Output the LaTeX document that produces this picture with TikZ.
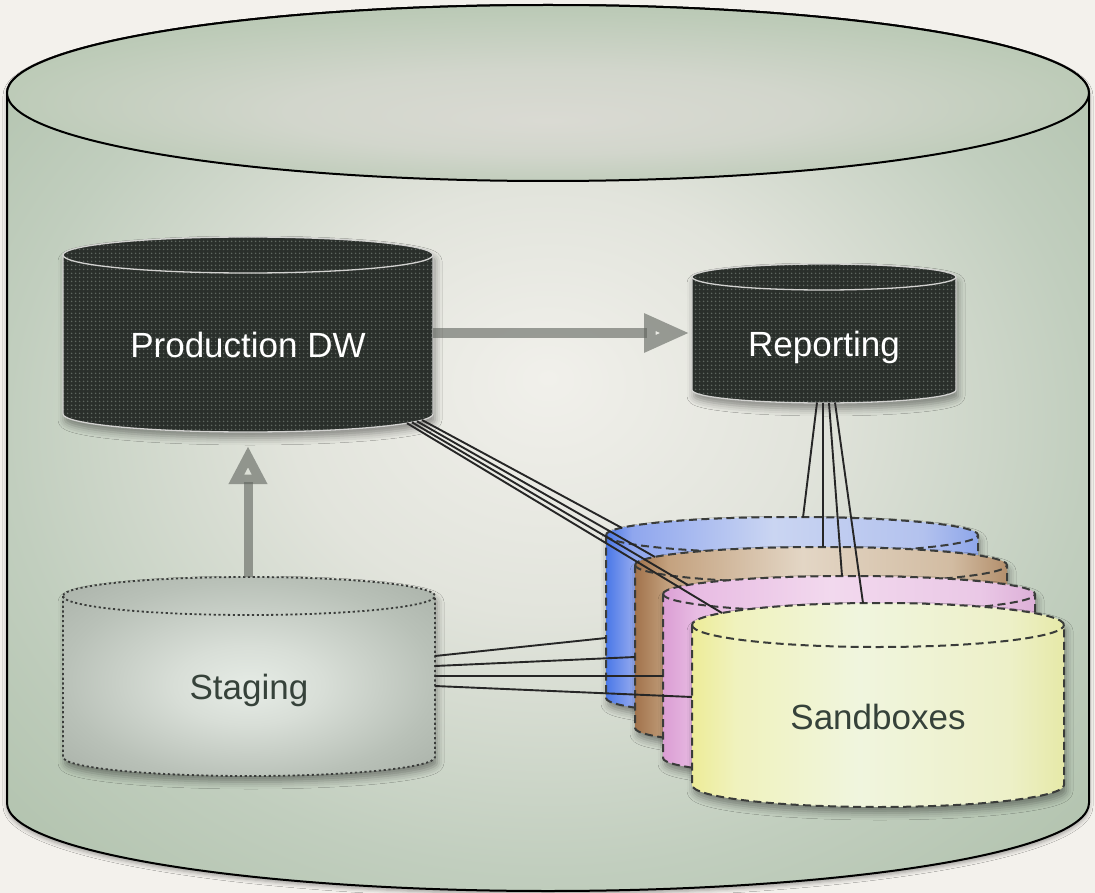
\documentclass[tikz,border=0pt]{standalone}
\usepackage{fontspec}
\setmainfont{Liberation Sans}
\usetikzlibrary{arrows.meta,patterns.meta,shadows.blur}

\definecolor{bg}{HTML}{F3F1EC}
\definecolor{bbA}{HTML}{F1F0EB}
\definecolor{bbB}{HTML}{E2E4DC}
\definecolor{bbC}{HTML}{C1CEBE}
\definecolor{bbD}{HTML}{AEC0AA}
\definecolor{btA}{HTML}{DADAD3}
\definecolor{btB}{HTML}{D2D6CC}
\definecolor{btC}{HTML}{BDCBB8}
\definecolor{btD}{HTML}{AEC0AA}
\definecolor{sgA}{HTML}{E6ECE6}
\definecolor{sgB}{HTML}{D8DED7}
\definecolor{sgC}{HTML}{B9C1B8}
\definecolor{sgD}{HTML}{AAB2A9}
\definecolor{dk}{HTML}{2A2F2B}
\definecolor{dkdot}{HTML}{5F6760}
\definecolor{dkline}{HTML}{D2D2D0}
\definecolor{arrowc}{HTML}{5F635D}
\definecolor{txtdark}{HTML}{36423A}
\definecolor{wirec}{HTML}{262626}
\definecolor{dashc}{HTML}{3A3C3A}
\definecolor{bl0}{HTML}{4A78E8}
\definecolor{bl1}{HTML}{8FA6EE}
\definecolor{bl2}{HTML}{CAD5F2}
\definecolor{bl3}{HTML}{B3C2EE}
\definecolor{bl4}{HTML}{8EA6EA}
\definecolor{br0}{HTML}{A2734C}
\definecolor{br1}{HTML}{C4A27F}
\definecolor{br2}{HTML}{E3D6C5}
\definecolor{br3}{HTML}{D2BCA2}
\definecolor{br4}{HTML}{B38F6C}
\definecolor{pk0}{HTML}{DB9ED4}
\definecolor{pk1}{HTML}{E8BCE3}
\definecolor{pk2}{HTML}{F2D9EE}
\definecolor{pk3}{HTML}{EAC8E6}
\definecolor{pk4}{HTML}{DDB0D8}
\definecolor{ye0}{HTML}{EDEC98}
\definecolor{ye1}{HTML}{F0F2BE}
\definecolor{ye2}{HTML}{F0F5DE}
\definecolor{ye3}{HTML}{EDF0C8}
\definecolor{ye4}{HTML}{E6E9A8}

% TikZ maps the 25bp..75bp band of a shading onto the path's bounding box
\pgfdeclareradialshading{bigbody}{\pgfpoint{0bp}{4bp}}{color(0bp)=(bbA); color(12bp)=(bbB); color(25bp)=(bbC); color(36bp)=(bbD)}
\pgfdeclareradialshading{bigtop}{\pgfpoint{0bp}{-8bp}}{color(0bp)=(btA); color(12bp)=(btB); color(25bp)=(btC); color(36bp)=(btD)}
\pgfdeclareradialshading{stgshade}{\pgfpoint{0bp}{-3bp}}{color(0bp)=(sgA); color(10bp)=(sgB); color(25bp)=(sgC); color(35bp)=(sgD)}
\pgfdeclarehorizontalshading{blueS}{100bp}{color(0bp)=(bl0); color(25bp)=(bl0); color(28.5bp)=(bl1); color(47.5bp)=(bl2); color(67.5bp)=(bl3); color(75bp)=(bl4); color(100bp)=(bl4)}
\pgfdeclarehorizontalshading{brownS}{100bp}{color(0bp)=(br0); color(25bp)=(br0); color(29.5bp)=(br1); color(47.5bp)=(br2); color(67.5bp)=(br3); color(75bp)=(br4); color(100bp)=(br4)}
\pgfdeclarehorizontalshading{pinkS}{100bp}{color(0bp)=(pk0); color(25bp)=(pk0); color(29.5bp)=(pk1); color(47.5bp)=(pk2); color(67.5bp)=(pk3); color(75bp)=(pk4); color(100bp)=(pk4)}
\pgfdeclarehorizontalshading{yelS}{100bp}{color(0bp)=(ye0); color(25bp)=(ye0); color(31bp)=(ye1); color(47.5bp)=(ye2); color(67.5bp)=(ye3); color(75bp)=(ye4); color(100bp)=(ye4)}

% #1 style, #2 cx, #3 ytop, #4 ybot, #5 rx, #6 ry
\newcommand\Cbody[6]{\path[#1] (#2-#5,#3) -- (#2-#5,#4) arc[start angle=180,end angle=0,x radius=#5,y radius=#6] -- (#2+#5,#3) arc[start angle=0,end angle=-180,x radius=#5,y radius=#6] -- cycle;}
% #1 style, #2 cx, #3 ytop, #4 rx, #5 ry
\newcommand\Cfront[5]{\path[#1] (#2-#4,#3) arc[start angle=180,end angle=0,x radius=#4,y radius=#5];}
\newcommand\Cell[5]{\path[#1] (#2,#3) ellipse[x radius=#4,y radius=#5];}

\tikzset{
  lbl/.style={font=\fontsize{35}{40}\selectfont, anchor=base, inner sep=0pt},
  wire/.style={draw=wirec, line width=1.9pt},
  softshadow/.style={blur shadow={shadow xshift=2pt, shadow yshift=-6pt, shadow opacity=40, shadow blur radius=7pt}},
  darkline/.style={draw=dkline, line width=1.3pt},
  dotpat/.style={pattern={Dots[distance=4pt,radius=1.05pt]}, pattern color=dkdot},
  dotline/.style={draw=dashc, line width=1.8pt, dash pattern=on 2.2pt off 2.6pt},
  dashline/.style={draw=dashc, line width=2pt, dash pattern=on 8pt off 4.5pt},
  arrowh/.style={draw=arrowc, draw opacity=.6, line width=9.5pt, -{Triangle[open, length=46pt, width=36pt, line width=12pt]}},
  arrowv/.style={draw=arrowc, draw opacity=.6, line width=9pt, -{Triangle[open, length=38pt, width=36pt, line width=12pt]}},
}

\begin{document}
\begin{tikzpicture}[x=1pt,y=-1pt]
\useasboundingbox (0,0) rectangle (1095,893);
\fill[bg] (0,0) rectangle (1095,893);

% outer cylinder
\Cbody{shade, shading=bigbody, draw=black, line width=2pt, blur shadow={shadow xshift=0pt, shadow yshift=-3pt, shadow opacity=35, shadow blur radius=4pt}}{548}{93}{803}{541}{88}
\Cell{shade, shading=bigtop, draw=black, line width=2pt}{548}{93}{541}{88}

% Production DW
\Cbody{fill=dk, softshadow}{248}{255}{414}{185}{18}
\Cbody{dotpat}{248}{255}{414}{185}{18}
\Cbody{darkline}{248}{255}{414}{185}{18}
\Cfront{darkline}{248}{255}{185}{18}
\node[lbl, text=white] (pdw) at (248,357) {Production DW};

% Reporting
\Cbody{fill=dk, softshadow}{824}{277}{390}{132}{13}
\Cbody{dotpat}{824}{277}{390}{132}{13}
\Cbody{darkline}{824}{277}{390}{132}{13}
\Cfront{darkline}{824}{277}{132}{13}
\node[lbl, text=white] (rep) at (824,356) {Reporting};

% Staging
\Cbody{shade, shading=stgshade, softshadow}{249}{596}{757}{186}{19}
\Cbody{dotline}{249}{596}{757}{186}{19}
\Cfront{dotline}{249}{596}{186}{19}
\node[lbl, text=txtdark] (stg) at (249,699) {Staging};

% Sandboxes
\Cbody{shade, shading=blueS, softshadow}{792}{535}{698}{186}{18}
\Cbody{dashline}{792}{535}{698}{186}{18}
\Cfront{dashline}{792}{535}{186}{18}
\Cbody{shade, shading=brownS, softshadow}{821}{565}{728}{186}{18}
\Cbody{dashline}{821}{565}{728}{186}{18}
\Cfront{dashline}{821}{565}{186}{18}
\Cbody{shade, shading=pinkS, softshadow}{849}{594}{758}{186}{18}
\Cbody{dashline}{849}{594}{758}{186}{18}
\Cfront{dashline}{849}{594}{186}{18}
\Cbody{shade, shading=yelS, softshadow}{878}{625}{785}{186}{22}
\Cbody{dashline}{878}{625}{785}{186}{22}
\Cfront{dashline}{878}{625}{186}{22}
\node[lbl, text=txtdark] (sbx) at (878,729) {Sandboxes};

% connector end points
\coordinate (pdw-e) at (433,333);
\coordinate (rep-w) at (690,333);
\coordinate (stg-n) at (248,577);
\coordinate (pdw-s) at (248,446);

\coordinate (pdw-o1) at (422,420);   \coordinate (blue-a) at (622,528);
\coordinate (pdw-o2) at (417,421.3); \coordinate (brown-a) at (655,557);
\coordinate (pdw-o3) at (412,422.3); \coordinate (pink-a) at (688,585);
\coordinate (pdw-o4) at (407,423.2); \coordinate (yel-a) at (722,613);

\coordinate (rep-o1) at (817,402.5); \coordinate (blue-b) at (803,517.5);
\coordinate (rep-o2) at (823,403);   \coordinate (brown-b) at (823,547);
\coordinate (rep-o3) at (829,403);   \coordinate (pink-b) at (842,576);
\coordinate (rep-o4) at (835,402.5); \coordinate (yel-b) at (863,603);

\coordinate (stg-o1) at (435,656); \coordinate (blue-c) at (606,638);
\coordinate (stg-o2) at (435,666); \coordinate (brown-c) at (635,657);
\coordinate (stg-o3) at (435,676); \coordinate (pink-c) at (663,676);
\coordinate (stg-o4) at (435,686); \coordinate (yel-c) at (692,697);

% wires
\draw[wire] (pdw-o1) -- (blue-a);
\draw[wire] (pdw-o2) -- (brown-a);
\draw[wire] (pdw-o3) -- (pink-a);
\draw[wire] (pdw-o4) -- (yel-a);
\draw[wire] (rep-o1) -- (blue-b);
\draw[wire] (rep-o2) -- (brown-b);
\draw[wire] (rep-o3) -- (pink-b);
\draw[wire] (rep-o4) -- (yel-b);
\draw[wire] (stg-o1) -- (blue-c);
\draw[wire] (stg-o2) -- (brown-c);
\draw[wire] (stg-o3) -- (pink-c);
\draw[wire] (stg-o4) -- (yel-c);

% arrows
\draw[arrowh] (pdw-e) -- (rep-w);
\draw[arrowv] (stg-n) -- (pdw-s);
\end{tikzpicture}
\end{document}
